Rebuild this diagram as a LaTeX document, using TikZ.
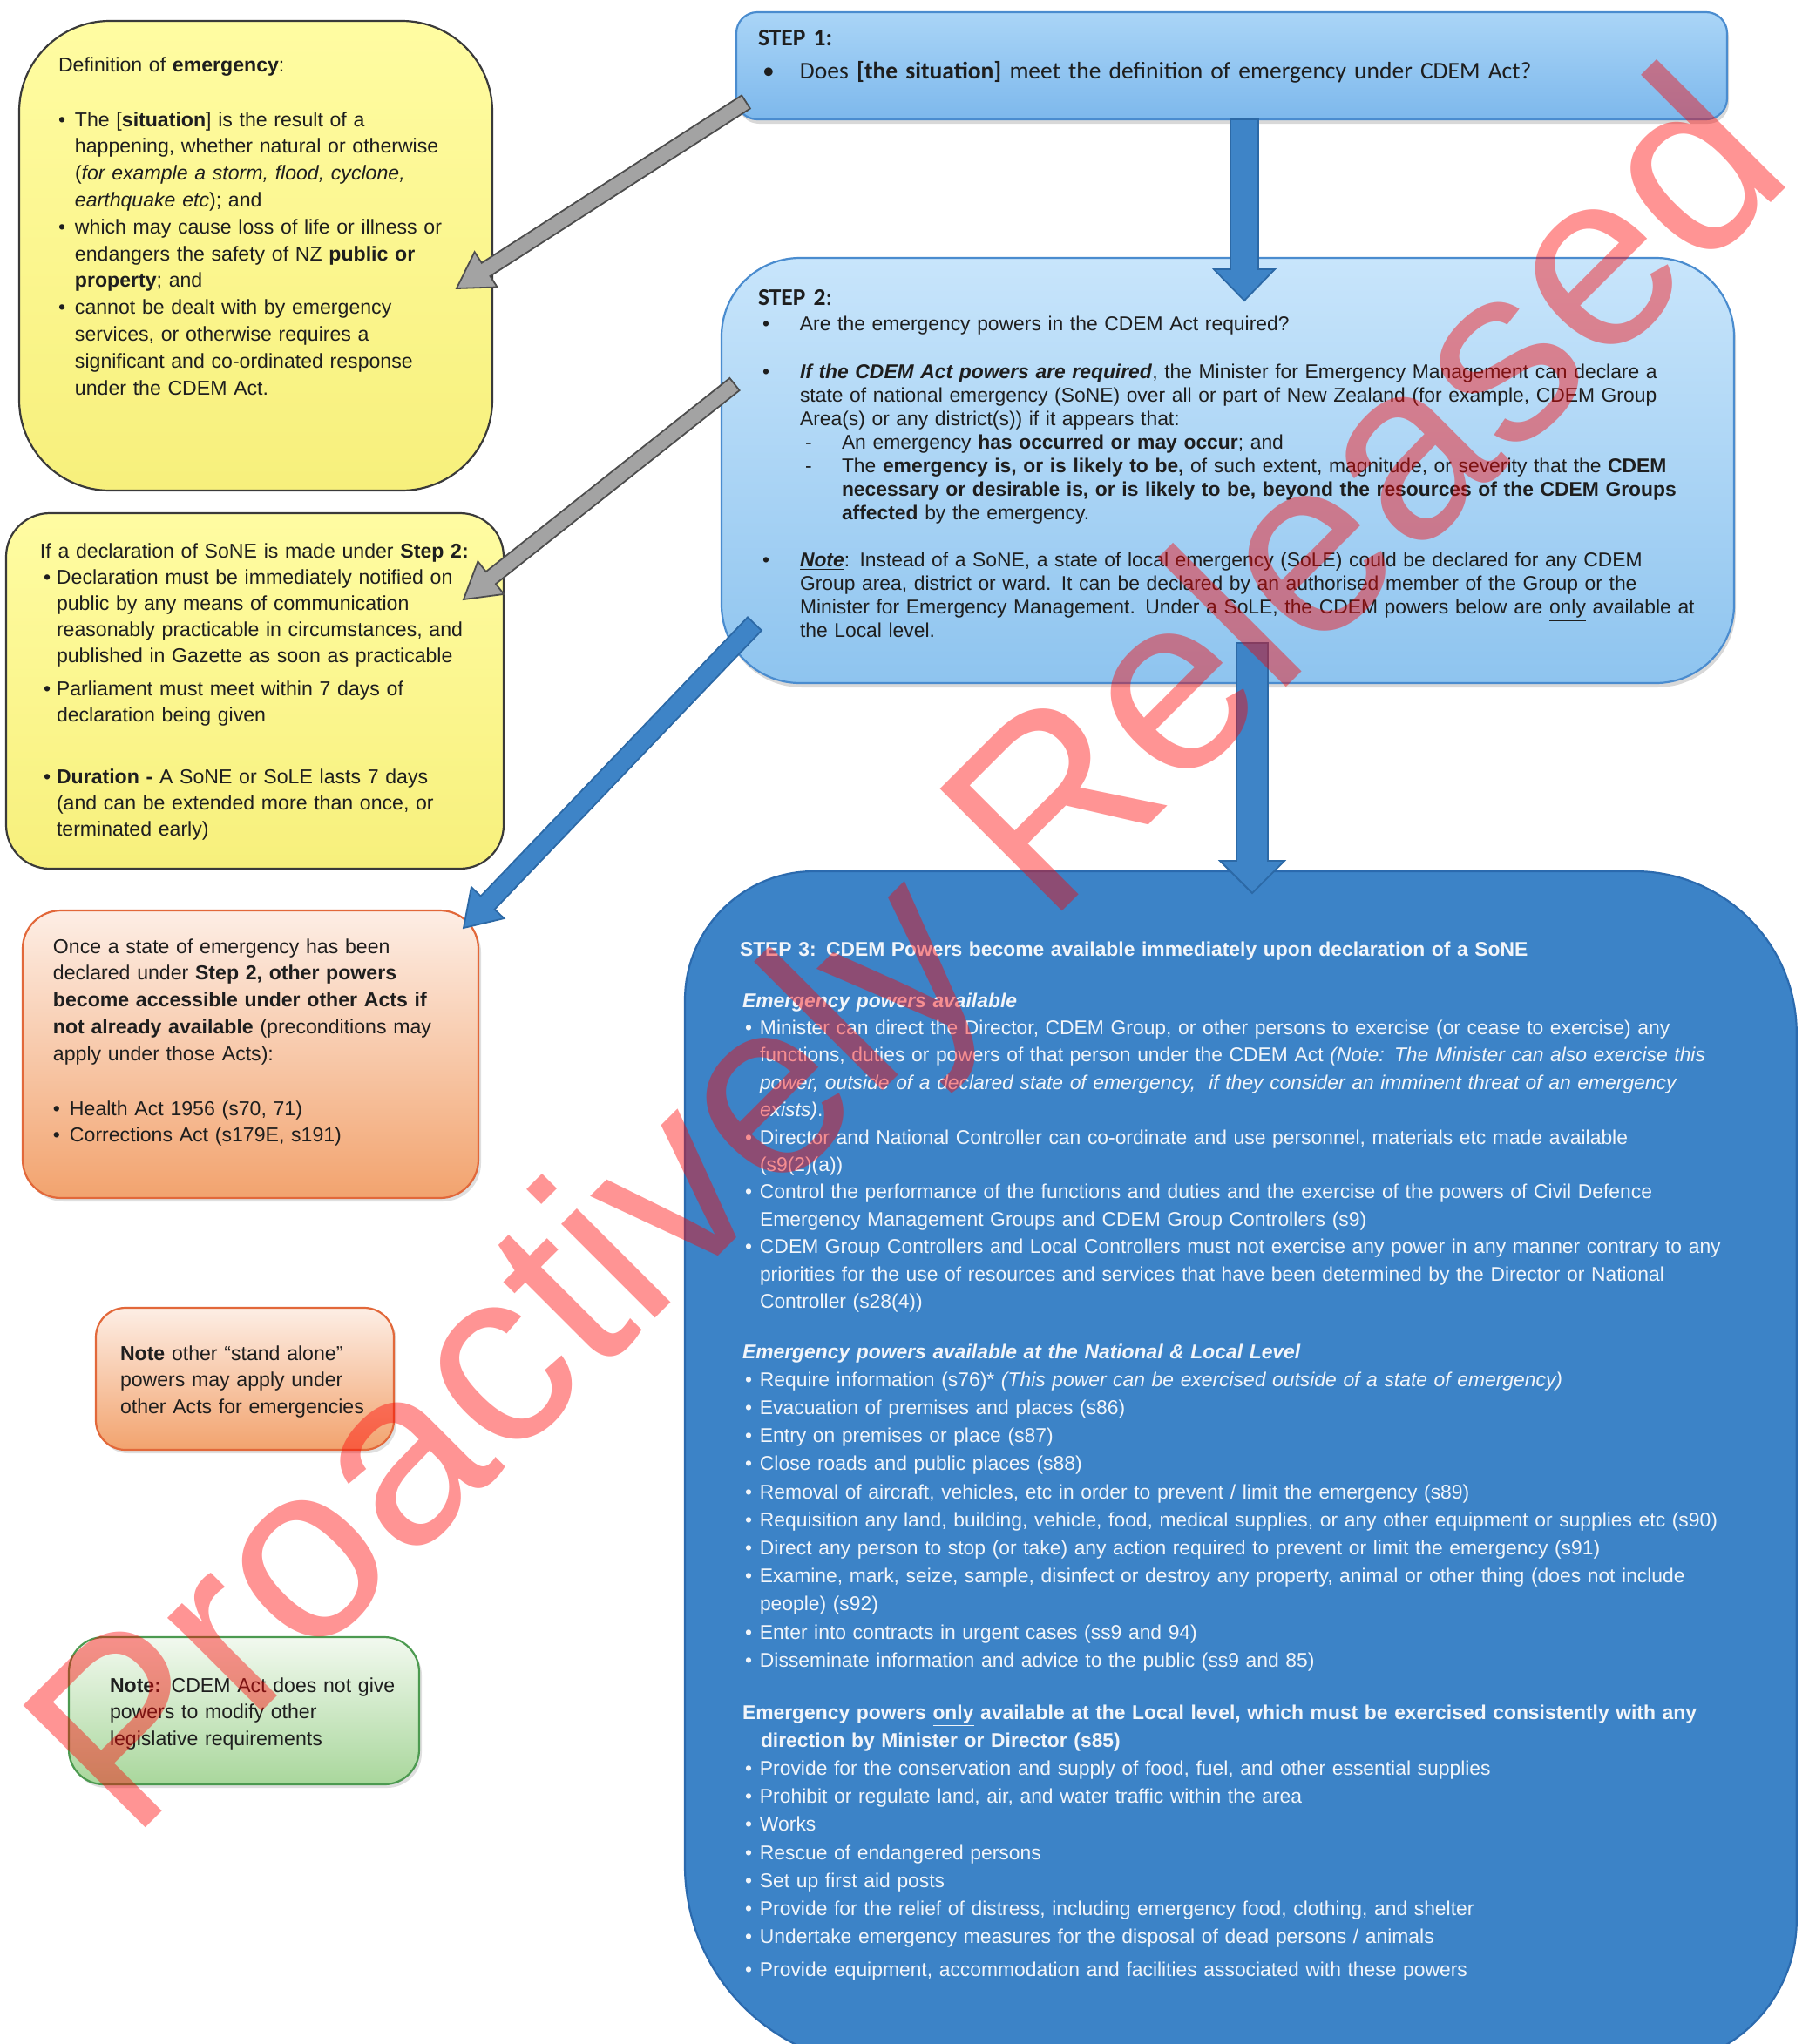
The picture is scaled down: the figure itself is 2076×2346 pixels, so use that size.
\documentclass[tikz,border=0pt]{standalone}
\usepackage{fontspec}
\setmainfont{Liberation Sans}
\newfontfamily\calib{Carlito}
\usetikzlibrary{calc,shadows}
\definecolor{ytop}{HTML}{FFFCA2}
\definecolor{ybot}{HTML}{F7F07C}
\definecolor{ybord}{HTML}{3A3A3A}
\definecolor{sonetop}{HTML}{AAD5F7}
\definecolor{sonebot}{HTML}{7DB8EC}
\definecolor{stwotop}{HTML}{C8E5FB}
\definecolor{stwobot}{HTML}{8EC4EF}
\definecolor{sbord}{HTML}{4A8CCF}
\definecolor{sthree}{HTML}{3C83C7}
\definecolor{sthreebord}{HTML}{2B6AAE}
\definecolor{otop}{HTML}{FDEEE5}
\definecolor{obot}{HTML}{F2A36E}
\definecolor{obord}{HTML}{E2683A}
\definecolor{gtop}{HTML}{F2F9EF}
\definecolor{gbot}{HTML}{A9D79C}
\definecolor{gbord}{HTML}{4C9A50}
\definecolor{garrow}{HTML}{A3A3A3}
\definecolor{gdark}{HTML}{4D4D4D}
\definecolor{barrow}{HTML}{3E84C7}
\definecolor{bdark}{HTML}{2C69A6}
\definecolor{txtc}{HTML}{1E1E1E}
\definecolor{wtxt}{HTML}{F1F5FA}
\newcommand\fA{\fontsize{11.55pt}{15.4pt}\selectfont}
\newcommand\fB{\fontsize{11.55pt}{15.1pt}\selectfont}
\newcommand\fS{\fontsize{11.43pt}{13.5pt}\selectfont}
\newcommand\fTa{\fontsize{11.43pt}{15.7pt}\selectfont}
\newcommand\fT{\fontsize{11.43pt}{16.1pt}\selectfont}
\newcommand\fC{\calib\fontsize{13.76pt}{17pt}\selectfont}
\newcommand\bulw[1]{\makebox[#1][l]{\textbullet}}
\newcommand\tbul{\hspace*{1.5pt}\makebox[8.5pt][l]{\textbullet}}
\newcommand\tind{\hspace*{10pt}}
\newcommand\blockarrow[6]{%
  \coordinate (#2h) at ($(#3)!#6!(#2)$);
  \draw[#1] ($(#2)!#4!90:(#3)$) -- ($(#2h)!#4!90:(#3)$) -- ($(#2h)!#5!90:(#3)$) -- (#3)
    -- ($(#2h)!#5!-90:(#3)$) -- ($(#2h)!#4!-90:(#3)$) -- ($(#2)!#4!-90:(#3)$) -- cycle;}
\begin{document}
\begin{tikzpicture}[x=0.5pt,y=-0.5pt,
  txt/.style={inner sep=0pt, outer sep=0pt, anchor=base west, text width=760pt, align=left, text=txtc},
  boxbase/.style={anchor=north west, inner sep=0pt, outer sep=0pt, line width=1.1pt},
  ybox/.style={boxbase, draw=ybord, top color=ytop, bottom color=ybot},
  obox/.style={boxbase, draw=obord, top color=otop, bottom color=obot, drop shadow={opacity=0.25, shadow xshift=1.5pt, shadow yshift=-2pt}},
  gbox/.style={boxbase, draw=gbord, top color=gtop, bottom color=gbot, drop shadow={opacity=0.25, shadow xshift=1.5pt, shadow yshift=-2pt}},
  sonebox/.style={boxbase, draw=sbord, top color=sonetop, bottom color=sonebot, drop shadow={opacity=0.3, shadow xshift=1pt, shadow yshift=-2.5pt}},
  stwobox/.style={boxbase, draw=sbord, top color=stwotop, bottom color=stwobot, drop shadow={opacity=0.3, shadow xshift=1pt, shadow yshift=-2.5pt}},
  sthreebox/.style={draw=sthreebord, fill=sthree, line width=1.1pt},
  grayarrow/.style={fill=garrow, draw=gdark, line width=0.9pt},
  bluearrow/.style={fill=barrow, draw=bdark, line width=0.9pt},
  wmark/.style={inner sep=0pt, anchor=base west, rotate=45, text=red, text opacity=0.42, font=\fontsize{144pt}{144pt}\selectfont}
]
\useasboundingbox (0,0) rectangle (2076,2346);
\fill[white] (0,0) rectangle (2076,2346);
\begin{scope}
\clip (0,0) rectangle (2076,2346);
% boxes
\node[ybox, rounded corners=52pt, minimum width=271.5pt, minimum height=269.5pt] (boxA) at (22,24) {};
\node[ybox, rounded corners=25pt, minimum width=285.5pt, minimum height=204pt] (boxB) at (7,589) {};
\node[obox, rounded corners=22pt, minimum width=261.5pt, minimum height=165pt] (boxC) at (26,1045) {};
\node[obox, rounded corners=17pt, minimum width=171pt, minimum height=81.5pt] (boxD) at (110,1501) {};
\node[gbox, rounded corners=20pt, minimum width=201pt, minimum height=84.5pt] (boxE) at (79,1879) {};
\node[sonebox, rounded corners=12pt, minimum width=568.5pt, minimum height=61.5pt] (step1) at (845,14) {};
\node[stwobox, rounded corners=45pt, minimum width=581pt, minimum height=244pt] (step2) at (828,296) {};
% step 3 box: corners of differing radius
\node[anchor=north west, inner sep=0pt, minimum width=637.5pt, minimum height=685pt] (step3) at (786,1000) {};
\draw[sthreebox] (step3.north west) ++(0,148) arc[start angle=180, end angle=90, radius=74pt]
  -- ($(step3.north east)+(-186,0)$) arc[start angle=90, end angle=0, radius=93pt]
  -- ($(step3.south east)+(0,-167)$) arc[start angle=0, end angle=-90, radius=83.5pt]
  -- ($(step3.south west)+(230,0)$) arc[start angle=-90, end angle=-180, radius=115pt]
  -- cycle;
% arrows
\coordinate (g1s) at (856,117);  \coordinate (g1e) at (524,331);
\coordinate (g2s) at (843,441);  \coordinate (g2e) at (532,688);
\coordinate (b3s) at (866,716);  \coordinate (b3e) at (532,1065);
\coordinate (d1s) at (1428,137); \coordinate (d1e) at (1428,345);
\coordinate (d2s) at (1437,738); \coordinate (d2e) at (1437,1025);
\blockarrow{grayarrow}{g1s}{g1e}{4.5pt}{12pt}{20pt}
\blockarrow{grayarrow}{g2s}{g2e}{4.5pt}{12pt}{20pt}
\blockarrow{bluearrow}{b3s}{b3e}{5.5pt}{13pt}{20pt}
\blockarrow{bluearrow}{d1s}{d1e}{8pt}{17.5pt}{18pt}
\blockarrow{bluearrow}{d2s}{d2e}{9pt}{18.5pt}{18.5pt}
% box A text
\node[txt, font=\fA] (tA) at (67,82) {Definition of \textbf{emergency}:\\[16.1pt]
\bulw{9.5pt}The [\textbf{situation}] is the result of a\\
\hspace*{9.5pt}happening, whether natural or otherwise\\
\hspace*{9.5pt}(\textit{for example a storm, flood, cyclone,}\\
\hspace*{9.5pt}\textit{earthquake etc}); and\\
\bulw{9.5pt}which may cause loss of life or illness or\\
\hspace*{9.5pt}endangers the safety of NZ \textbf{public or}\\
\hspace*{9.5pt}\textbf{property}; and\\
\bulw{9.5pt}cannot be dealt with by emergency\\
\hspace*{9.5pt}services, or otherwise requires a\\
\hspace*{9.5pt}significant and co-ordinated response\\
\hspace*{9.5pt}under the CDEM Act.};
% box B text
\node[txt, font=\fB] (tB) at (46,640) {If a declaration of SoNE is made under \textbf{Step 2:}\\
\hspace*{2pt}\bulw{7.5pt}Declaration must be immediately notified on\\
\hspace*{9.5pt}public by any means of communication\\
\hspace*{9.5pt}reasonably practicable in circumstances, and\\
\hspace*{9.5pt}published in Gazette as soon as practicable\\[3.6pt]
\hspace*{2pt}\bulw{7.5pt}Parliament must meet within 7 days of\\
\hspace*{9.5pt}declaration being given\\[20.2pt]
\hspace*{2pt}\bulw{7.5pt}\textbf{Duration -} A SoNE or SoLE lasts 7 days\\
\hspace*{9.5pt}(and can be extended more than once, or\\
\hspace*{9.5pt}terminated early)};
% box C text
\node[txt, font=\fA] (tC) at (61,1094) {Once a state of emergency has been\\
declared under \textbf{Step 2, other powers}\\
\textbf{become accessible under other Acts if}\\
\textbf{not already available} (preconditions may\\
apply under those Acts):\\[16pt]
\bulw{9.5pt}Health Act 1956 (s70, 71)\\
\bulw{9.5pt}Corrections Act (s179E, s191)};
% box D, E text
\node[txt, font=\fA] (tD) at (138,1561) {\textbf{Note} other “stand alone”\\
powers may apply under\\
other Acts for emergencies};
\node[txt, font=\fA] (tE) at (126,1942) {\textbf{Note:} CDEM Act does not give\\
powers to modify other\\
legislative requirements};
% step 1
\node[txt, font=\fC] (s1t) at (870,52) {\textbf{STEP 1:}};
\node[txt, font=\fC] (s1b) at (875,90) {\bulw{21.5pt}Does \textbf{[the situation]} meet the definition of emergency under CDEM Act?};
% step 2
\node[txt, font=\fC] (s2t) at (870,350) {\textbf{STEP 2}:};
\node[txt, font=\fS] (s2b) at (875,379) {\bulw{21.5pt}Are the emergency powers in the CDEM Act required?\\[14.25pt]
\bulw{21.5pt}\textbf{\textit{If the CDEM Act powers are required}}, the Minister for Emergency Management can declare a\\
\hspace*{21.5pt}state of national emergency (SoNE) over all or part of New Zealand (for example, CDEM Group\\
\hspace*{21.5pt}Area(s) or any district(s)) if it appears that:\\
\hspace*{24.5pt}\makebox[21pt][l]{-}An emergency \textbf{has occurred or may occur}; and\\
\hspace*{24.5pt}\makebox[21pt][l]{-}The \textbf{emergency is, or is likely to be,} of such extent, magnitude, or severity that the \textbf{CDEM}\\
\hspace*{45.5pt}\textbf{necessary or desirable is, or is likely to be, beyond the resources of the CDEM Groups}\\
\hspace*{45.5pt}\textbf{affected} by the emergency.\\[13.5pt]
\bulw{21.5pt}\textbf{\textit{\underline{Note}}}: Instead of a SoNE, a state of local emergency (SoLE) could be declared for any CDEM\\
\hspace*{21.5pt}Group area, district or ward. It can be declared by an authorised member of the Group or the\\
\hspace*{21.5pt}Minister for Emergency Management. Under a SoLE, the CDEM powers below are \underline{only} available at\\
\hspace*{21.5pt}the Local level.};
% step 3
\node[txt, font=\fT, text=wtxt] (s3t) at (849,1097) {\textbf{STEP 3: CDEM Powers become available immediately upon declaration of a SoNE}};
\node[txt, font=\fTa, text=wtxt] (s3a) at (852,1156) {\textbf{\textit{Emergency powers available}}\\
\tbul Minister can direct the Director, CDEM Group, or other persons to exercise (or cease to exercise) any\\
\tind functions, duties or powers of that person under the CDEM Act \textit{(Note: The Minister can also exercise this}\\
\tind \textit{power, outside of a declared state of emergency,\ \ if they consider an imminent threat of an emergency}\\
\tind \textit{exists)}.\\
\tbul Director and National Controller can co-ordinate and use personnel, materials etc made available\\
\tind (s9(2)(a))\\
\tbul Control the performance of the functions and duties and the exercise of the powers of Civil Defence\\
\tind Emergency Management Groups and CDEM Group Controllers (s9)\\
\tbul CDEM Group Controllers and Local Controllers must not exercise any power in any manner contrary to any\\
\tind priorities for the use of resources and services that have been determined by the Director or National\\
\tind Controller (s28(4))};
\node[txt, font=\fT, text=wtxt] (s3b) at (852,1559) {\textbf{\textit{Emergency powers available at the National \& Local Level}}\\
\tbul Require information (s76)* \textit{(This power can be exercised outside of a state of emergency)}\\
\tbul Evacuation of premises and places (s86)\\
\tbul Entry on premises or place (s87)\\
\tbul Close roads and public places (s88)\\
\tbul Removal of aircraft, vehicles, etc in order to prevent / limit the emergency (s89)\\
\tbul Requisition any land, building, vehicle, food, medical supplies, or any other equipment or supplies etc (s90)\\
\tbul Direct any person to stop (or take) any action required to prevent or limit the emergency (s91)\\
\tbul Examine, mark, seize, sample, disinfect or destroy any property, animal or other thing (does not include\\
\tind people) (s92)\\
\tbul Enter into contracts in urgent cases (ss9 and 94)\\
\tbul Disseminate information and advice to the public (ss9 and 85)};
\node[txt, font=\fT, text=wtxt] (s3c) at (852,1973) {\textbf{Emergency powers \underline{only} available at the Local level, which must be exercised consistently with any}\\
\hspace*{10.5pt}\textbf{direction by Minister or Director (s85)}\\
\tbul Provide for the conservation and supply of food, fuel, and other essential supplies\\
\tbul Prohibit or regulate land, air, and water traffic within the area\\
\tbul Works\\
\tbul Rescue of endangered persons\\
\tbul Set up first aid posts\\
\tbul Provide for the relief of distress, including emergency food, clothing, and shelter\\
\tbul Undertake emergency measures for the disposal of dead persons / animals\\[2.75pt]
\tbul Provide equipment, accommodation and facilities associated with these powers};
% watermark
\node[wmark] (wm) at (150,2115) {Proactively Released};
\end{scope}
\end{tikzpicture}
\end{document}
